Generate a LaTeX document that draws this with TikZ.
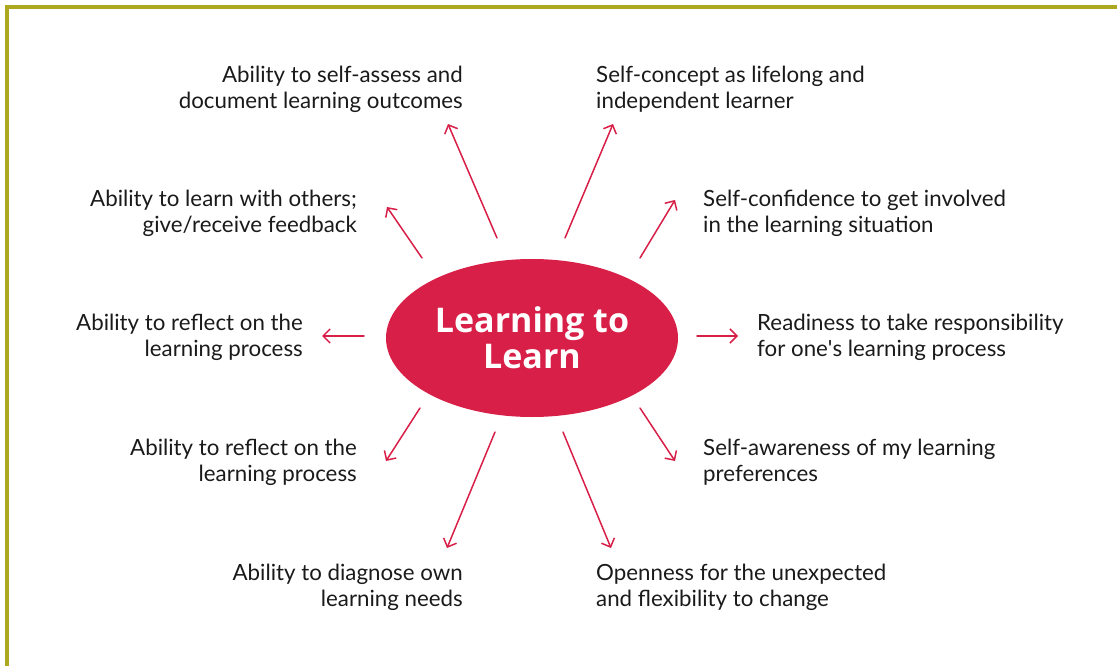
\documentclass[tikz,border=0pt]{standalone}
\usepackage{fontspec}
\setmainfont{Lato}
\newfontfamily\headfont{Open Sans}
\usetikzlibrary{shapes.geometric,arrows.meta}
\definecolor{learnred}{HTML}{D81F48}
\definecolor{frameolive}{HTML}{ADA81E}
\definecolor{inkgray}{HTML}{1A1A1A}
\tikzset{
  spoke/.style={learnred,line width=1.5pt,line cap=round,-{Straight Barb[length=7pt,width=14pt]}},
  goal/.style={inkgray,inner sep=0pt,font=\fontsize{22.3}{26}\selectfont},
  goalL/.style={goal,anchor=east,align=right},
  goalR/.style={goal,anchor=west,align=left},
}
\begin{document}
\begin{tikzpicture}[x=1pt,y=-1pt]
\useasboundingbox (0,0) rectangle (1117,666);
% frame
\draw[frameolive,line width=4pt] (7,666) -- (7,7) -- (1117,7);
% centre
\node[ellipse,fill=learnred,minimum width=292pt,minimum height=158pt,text=white,
  font=\headfont\bfseries\fontsize{34}{36}\selectfont,align=center] (core) at (532,338) {Learning to\\Learn};
% goals
\node[goalL] (assess) at (463,89) {Ability to self-assess and\\document learning outcomes};
\node[goalR] (concept) at (596,89) {Self-concept as lifelong and\\independent learner};
\node[goalL] (others) at (357,213) {Ability to learn with others;\\give/receive feedback};
\node[goalR] (confid) at (703,213) {Self-confidence to get involved\\in the learning situation};
\node[goalL] (reflectA) at (303,337) {Ability to reflect on the\\learning process};
\node[goalR] (respons) at (757,337) {Readiness to take responsibility\\for one\textquotesingle s learning process};
\node[goalL] (reflectB) at (357,462) {Ability to reflect on the\\learning process};
\node[goalR] (aware) at (703,462) {Self-awareness of my learning\\preferences};
\node[goalL] (diagnose) at (463,587) {Ability to diagnose own\\learning needs};
\node[goalR] (open) at (596,587) {Openness for the unexpected\\and flexibility to change};
% spokes
\foreach \name/\tx/\ty/\hx/\hy in {
  assess/497/238/448/124, concept/565/238/613/124,
  others/422/258/387/207, confid/640/258/675/200,
  reflectA/364/336/322/336, respons/697/336/738/336,
  reflectB/420/408/386/461, aware/640/408/675/461,
  diagnose/495/432/447/548, open/563/432/611/548}{
  \coordinate (\name-t) at (\tx,\ty);
  \coordinate (\name-h) at (\hx,\hy);
  \draw[spoke] (\name-t) -- (\name-h);
}
\end{tikzpicture}
\end{document}
